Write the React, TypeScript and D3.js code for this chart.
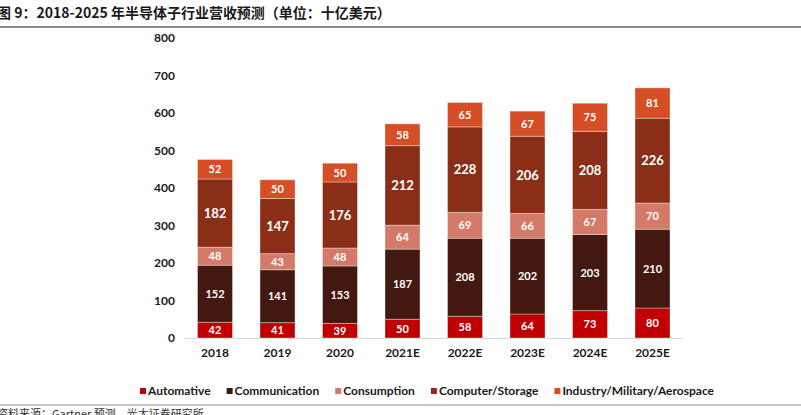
import { useEffect, useRef } from 'react';
import * as d3 from 'd3';

const categories = ['2018', '2019', '2020', '2021E', '2022E', '2023E', '2024E', '2025E'];
const seriesNames = ['Automative', 'Communication', 'Consumption', 'Computer/Storage', 'Industry/Military/Aerospace'];
const automotive = [42, 41, 39, 50, 58, 64, 73, 80];
const communication = [152, 141, 153, 187, 208, 202, 203, 210];
const consumption = [48, 43, 48, 64, 69, 66, 67, 70];
const computerStorage = [182, 147, 176, 212, 228, 206, 208, 226];
const industry = [52, 50, 50, 58, 65, 67, 75, 81];
const yTicks = [0, 100, 200, 300, 400, 500, 600, 700, 800];

const colors = ['#C00000', '#431810', '#D47A68', '#8A2E17', '#D64E25'];

const W = 801;
const H = 415;

export default function App() {
  const svgRef = useRef<SVGSVGElement>(null);

  useEffect(() => {
    if (!svgRef.current) return;
    const svg = d3.select(svgRef.current);
    svg.selectAll('*').remove();

    const latin = 'Lato, "Noto Sans", sans-serif';
    const cjk = '"Noto Sans CJK SC", sans-serif';

    // title + rule
    svg.append('text')
      .attr('x', -3)
      .attr('y', 18)
      .text('图 9：2018-2025 年半导体子行业营收预测（单位：十亿美元）')
      .style('font-family', cjk)
      .style('font-size', '14px')
      .style('font-weight', 'bold')
      .style('fill', '#1a1a1a');

    svg.append('line')
      .attr('x1', 0).attr('x2', W)
      .attr('y1', 27).attr('y2', 27)
      .attr('stroke', '#8c8c8c')
      .attr('stroke-width', 2);

    const rows = categories.map((c, i) => ({
      cat: c,
      'Automative': automotive[i],
      'Communication': communication[i],
      'Consumption': consumption[i],
      'Computer/Storage': computerStorage[i],
      'Industry/Military/Aerospace': industry[i],
    }));

    const stack = d3.stack<any>().keys(seriesNames);
    const stacked = stack(rows);

    const x = d3.scaleBand()
      .domain(categories)
      .range([185, 682.5])
      .paddingInner(0.44)
      .paddingOuter(0.2);

    const y = d3.scaleLinear()
      .domain([0, 800])
      .range([338, 38]);

    const g = svg.append('g');

    // y tick labels
    g.selectAll('text.ytick')
      .data(yTicks)
      .join('text')
      .attr('class', 'ytick')
      .attr('x', 175)
      .attr('y', d => y(d))
      .attr('dy', '0.35em')
      .attr('text-anchor', 'end')
      .text(d => d)
      .style('font-family', latin)
      .style('font-size', '12px')
      .style('font-weight', 'bold')
      .style('fill', '#1a1a1a');

    // baseline
    g.append('line')
      .attr('x1', x.range()[0]).attr('x2', x.range()[1])
      .attr('y1', y(0) + 0.5).attr('y2', y(0) + 0.5)
      .attr('stroke', '#d9d9d9')
      .attr('stroke-width', 1);

    // bars
    stacked.forEach((layer, li) => {
      const lg = g.append('g');
      lg.selectAll('rect')
        .data(layer)
        .join('rect')
        .attr('x', d => x(d.data.cat) || 0)
        .attr('y', d => y(d[1]))
        .attr('width', x.bandwidth())
        .attr('height', d => y(d[0]) - y(d[1]))
        .attr('fill', colors[li])
        .attr('stroke', '#ffffff')
        .attr('stroke-opacity', 0.35)
        .attr('stroke-width', 1);

      lg.selectAll('text')
        .data(layer)
        .join('text')
        .attr('x', d => (x(d.data.cat) || 0) + x.bandwidth() / 2)
        .attr('y', d => (y(d[0]) + y(d[1])) / 2)
        .attr('dy', '0.36em')
        .attr('text-anchor', 'middle')
        .text(d => d[1] - d[0])
        .style('font-family', latin)
        .style('font-size', li === 3 ? '13px' : '11px')
        .style('font-weight', 'bold')
        .style('fill', '#ffffff');
    });

    // x tick labels
    g.selectAll('text.xtick')
      .data(categories)
      .join('text')
      .attr('class', 'xtick')
      .attr('x', d => (x(d) || 0) + x.bandwidth() / 2)
      .attr('y', 357)
      .attr('text-anchor', 'middle')
      .text(d => d)
      .style('font-family', latin)
      .style('font-size', '12px')
      .style('font-weight', 'bold')
      .style('fill', '#1a1a1a');

    // legend, laid out left to right
    let lx = 140;
    seriesNames.forEach((name, i) => {
      const item = svg.append('g')
        .attr('transform', `translate(${lx}, 395)`);
      item.append('rect')
        .attr('x', 0).attr('y', -7)
        .attr('width', 6).attr('height', 6)
        .attr('fill', colors[i]);
      const t = item.append('text')
        .attr('x', 8)
        .attr('y', 0)
        .text(name)
        .style('font-family', latin)
        .style('font-size', '12px')
        .style('font-weight', 'bold')
        .style('fill', '#1a1a1a');
      const len = (t.node() as SVGTextElement).getComputedTextLength();
      lx += 8 + len + 16;
    });

    // footer rule + source
    svg.append('line')
      .attr('x1', 0).attr('x2', W)
      .attr('y1', 405).attr('y2', 405)
      .attr('stroke', '#8c8c8c')
      .attr('stroke-width', 1);

    svg.append('text')
      .attr('x', -3)
      .attr('y', 418)
      .text('资料来源：Gartner 预测，光大证券研究所')
      .style('font-family', cjk)
      .style('font-size', '11px')
      .style('fill', '#333333');
  }, []);

  return (
    <div style={{ position: 'absolute', left: 0, top: 0, background: '#fff' }}>
      <svg ref={svgRef} width={W} height={H} style={{ display: 'block' }} />
    </div>
  );
}
